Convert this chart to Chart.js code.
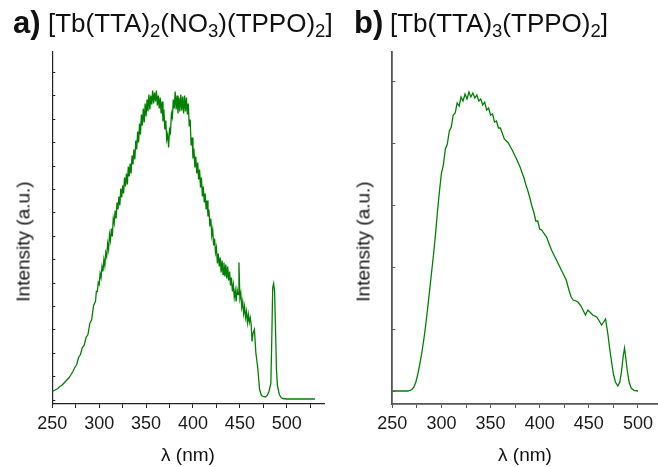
<!DOCTYPE html>
<html>
<head>
<meta charset="utf-8">
<script src="https://cdn.jsdelivr.net/npm/chart.js@4.4.1/dist/chart.umd.min.js"></script>
<style>
  body { margin: 0; background: #fff; width: 658px; height: 467px; position: relative; overflow: hidden;
         font-family: "Liberation Sans", Arial, sans-serif; color: #111; }
  canvas { position: absolute; top: 0; }
  .t { position: absolute; white-space: nowrap; line-height: 1; }
  .lab { font-weight: bold; font-size: 31px; }
  .name { font-size: 26px; }
  .name sub { font-size: 18.5px; vertical-align: -5px; line-height: 0; }
  .xt { font-size: 19px; width: 200px; text-align: center; }
  .yt { font-size: 19px; width: 200px; height: 19px; line-height: 19px; text-align: center; transform: rotate(-90deg); }
</style>
</head>
<body>
<canvas id="chartA" width="330" height="467" style="left:0"></canvas>
<canvas id="chartB" width="328" height="467" style="left:330px"></canvas>

<span class="t lab" style="left:13px;top:7px">a)</span>
<span class="t name" style="left:48px;top:10px">[Tb(TTA)<sub>2</sub>(NO<sub>3</sub>)(TPPO)<sub>2</sub>]</span>
<span class="t lab" style="left:354px;top:7px">b)</span>
<span class="t name" style="left:390px;top:10px">[Tb(TTA)<sub>3</sub>(TPPO)<sub>2</sub>]</span>

<div class="t xt" style="left:88px;top:445px">λ (nm)</div>
<div class="t xt" style="left:425px;top:445px">λ (nm)</div>
<div class="t yt" style="left:-77px;top:232px">Intensity (a.u.)</div>
<div class="t yt" style="left:263px;top:232px">Intensity (a.u.)</div>

<script>
// panel a: [Tb(TTA)2(NO3)(TPPO)2], wavelength (nm) / intensity (a.u.)
const waveA = [250, 252, 254, 256, 258, 260, 262, 264, 266, 268, 270, 272, 274, 276, 278, 280, 282, 284, 286, 288,
  290, 292, 294,
  296, 297, 298, 299, 300, 301, 302, 303, 304, 305, 306, 307, 308, 309, 310, 311, 312, 313, 314, 315,
  316, 317, 318, 319, 320, 321, 322, 323, 324, 325, 326, 327, 328, 329, 330, 331, 332, 333, 334, 335,
  336, 337, 338, 339, 340, 341, 342, 343, 344, 345, 346, 347, 348, 349, 350, 351, 352, 353, 354, 355,
  356, 357, 358, 359, 360, 361, 362, 363, 364, 365, 366, 367, 368, 369, 370, 371, 372, 373, 374, 375,
  376, 377, 378, 379, 380, 381, 382, 383, 384, 385, 386, 387, 388, 389, 390, 391, 392, 393, 394, 395,
  396, 397, 398, 399, 400, 401, 402, 403, 404, 405, 406, 407, 408, 409, 410, 411, 412, 413, 414, 415,
  416, 417, 418, 419, 420, 421, 422, 423, 424, 425, 426, 427, 428, 429, 430, 431, 432, 433, 434, 435,
  436, 437, 438, 439, 440, 441, 442, 443, 444, 445, 446, 447, 448, 449, 450, 451, 452, 453, 454, 455,
  456, 457, 458, 459, 460, 461, 462, 463, 464, 465.5, 467, 469, 471, 473, 475, 477, 479, 481, 483,
  484, 485, 486, 487, 488, 489, 490, 492, 494, 496, 500, 510, 520, 530];
const intA = [8, 9, 10, 11, 13, 14, 16, 18, 20, 22, 25, 28, 32, 35, 42, 45, 52, 54, 62, 65,
  76, 80, 94,
  98, 108, 108, 117, 115, 126, 122, 133, 128, 140, 134, 147, 143, 156, 150, 165, 159, 171, 163, 181,
  176, 189, 181, 197, 190, 203, 194, 211, 202, 214, 206, 222, 213, 226, 215, 233, 223, 236, 226, 244,
  235, 250, 240, 259, 250, 268, 257, 276, 265, 285, 274, 291, 277, 296, 283, 300, 288, 305, 290, 304,
  295, 309, 296, 307, 298, 309, 294, 304, 291, 302, 286, 298, 278, 290, 270, 279, 260, 265, 252, 270,
  267, 286, 282, 300, 291, 308, 290, 304, 286, 302, 288, 305, 289, 303, 286, 304, 288, 302, 285, 296,
  273, 280, 254, 262, 241, 251, 232, 243, 226, 237, 220, 230, 212, 222, 203, 213, 197, 206, 190, 199,
  183, 190, 173, 181, 164, 170, 154, 161, 147, 152, 136, 146, 133, 142, 127, 139, 125, 137, 123, 135,
  121, 133, 119, 128, 114, 122, 108, 115, 102, 109, 98, 110, 105, 137, 101, 106, 92, 98, 86, 93,
  82, 88, 77, 85, 77, 82, 75, 58, 66, 70, 47, 32, 10, 4, 3, 2.5, 4, 8, 16,
  60, 112, 116, 108, 70, 30, 14, 5, 2, 1, 0.5, 0.5, 0.5, 0.5];

// panel b: [Tb(TTA)3(TPPO)2]
const waveB = [250, 266, 270, 272, 274, 276, 278, 280, 282, 284, 286, 288, 290, 292, 294, 296, 298,
  300, 302, 304, 306, 308, 310, 312, 314, 316, 318, 320, 322, 324, 326, 328, 330, 332, 334, 336, 338,
  340, 342, 344, 346, 348, 350, 352, 354, 356, 358, 360, 364, 368, 372, 376, 380, 384, 386, 388, 390,
  392, 394, 396, 398, 400, 402, 404, 407, 410, 412, 415, 417, 420, 422, 425, 427, 430, 432, 434, 437,
  439, 442, 444, 446.5, 449, 452, 454, 458, 460, 463, 465, 467, 469.5, 471, 473, 475, 477, 479.5, 481.5,
  483, 485, 486.3, 487.5, 489, 491, 493, 496, 500];
const intB = [0, 0, 1.5, 4, 9, 17, 27, 38, 51, 66, 83, 101, 119, 137, 157, 180, 200,
  218, 226, 242, 247, 260, 264, 276, 278, 288, 285, 294, 290, 297, 292, 299, 294, 298, 293, 296, 290,
  292, 286, 289, 281, 283, 276, 277, 269, 270, 263, 263, 252, 248, 241, 233, 224, 213, 206, 200, 193,
  185, 179, 170, 170, 162, 161, 158, 154, 146, 141, 135, 131, 125, 121, 115, 111, 100, 94, 91, 90,
  89, 85, 81, 76, 81, 78, 76, 74, 71, 66, 69, 72, 56, 44, 30, 17, 9, 5, 9,
  18, 35, 43, 34, 21, 9, 3, 0.5, 0];

const xTickStep = 25;
const xLabelStep = 50;

// inward tick marks on the left axis
const innerTicks = {
  id: "innerTicks",
  afterDatasetsDraw(chart, args, opts) {
    const y = chart.scales.y;
    const ctx = chart.ctx;
    ctx.save();
    ctx.strokeStyle = opts.color;
    ctx.lineWidth = 1;
    ctx.beginPath();
    y.ticks.forEach(t => {
      const py = Math.round(y.getPixelForValue(t.value)) + 0.5;
      ctx.moveTo(y.right, py);
      ctx.lineTo(y.right + opts.len, py);
    });
    ctx.stroke();
    ctx.restore();
  }
};

function makeChart(id, waves, values, cfg) {
  const ctx = document.getElementById(id).getContext("2d");
  return new Chart(ctx, {
    type: "line",
    data: {
      datasets: [{
        data: waves.map((w, i) => ({ x: w, y: values[i] })),
        borderColor: "#008000",
        borderWidth: cfg.lineWidth,
        pointRadius: 0,
        tension: 0,
        fill: false
      }]
    },
    options: {
      responsive: false,
      animation: false,
      layout: { padding: { top: 52, right: cfg.padRight, bottom: 0, left: 0 } },
      plugins: {
        legend: { display: false },
        tooltip: { enabled: false },
        innerTicks: { color: cfg.axisColor, len: 3 }
      },
      scales: {
        x: {
          type: "linear",
          min: 250,
          max: cfg.xMax,
          afterFit: s => { s.height = 63; },
          grid: { drawOnChartArea: false, drawTicks: true, tickLength: 4, color: cfg.axisColor },
          border: { color: cfg.axisColor, width: cfg.axisWidth },
          ticks: {
            stepSize: xTickStep,
            includeBounds: false,
            autoSkip: false,
            maxRotation: 0,
            padding: 5,
            color: "#1a1a1a",
            font: { family: "'Liberation Sans', Arial, sans-serif", size: 18 },
            callback: v => (v % xLabelStep === 0 ? v : "")
          }
        },
        y: {
          min: cfg.yMin,
          max: cfg.yMax,
          afterFit: s => { s.width = cfg.yWidth; },
          grid: { display: false },
          border: { display: true, color: cfg.axisColor, width: cfg.axisWidth },
          ticks: { display: false, stepSize: cfg.yStep, includeBounds: false }
        }
      }
    },
    plugins: [innerTicks]
  });
}

makeChart("chartA", waveA, intA, {
  xMax: 540, yMin: -4.5, yMax: 347.5, yStep: 23.4, yWidth: 52.3, padRight: 5.7,
  axisColor: "#222", axisWidth: 1.2, lineWidth: 1.3
});
makeChart("chartB", waveB, intB, {
  xMax: 520, yMin: -13, yMax: 339, yStep: 62, yWidth: 62.3, padRight: 0,
  axisColor: "#555", axisWidth: 1.8, lineWidth: 1.3
});
</script>
</body>
</html>
